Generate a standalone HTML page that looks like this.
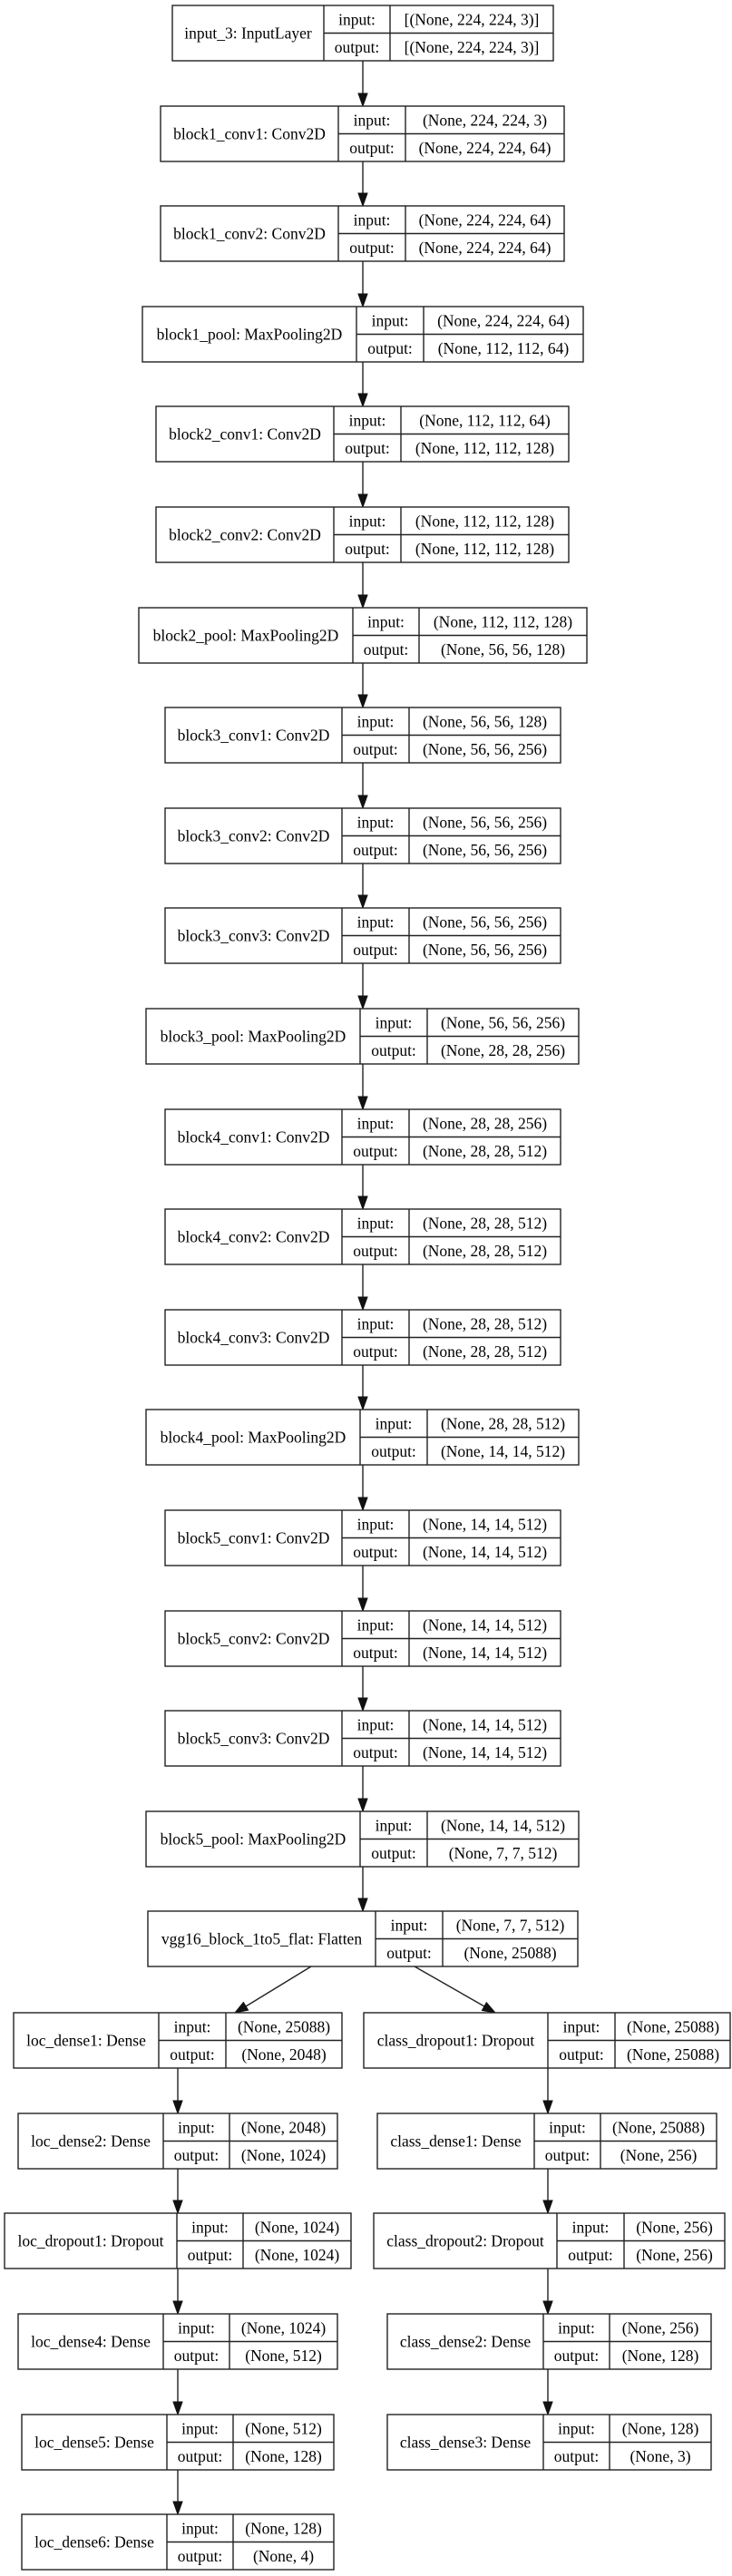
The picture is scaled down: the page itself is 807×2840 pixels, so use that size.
<!DOCTYPE html>
<html><head><meta charset="utf-8"><style>
html,body{margin:0;padding:0;background:#fff;}
svg{display:block;}
rect{fill:#fff;stroke:#222;stroke-width:1.4;}
line{stroke:#222;stroke-width:1.4;}
polygon{fill:#111;stroke:#111;stroke-width:1;}
text{font-family:"Liberation Serif",serif;font-size:17.5px;fill:#000;text-anchor:middle;}
</style></head><body>
<svg width="807" height="2840" viewBox="0 0 807 2840" xmlns="http://www.w3.org/2000/svg">
<g>
<line x1="400" y1="67" x2="400" y2="103"/><polygon points="395,103 405,103 400,117"/>
<line x1="400" y1="178" x2="400" y2="213"/><polygon points="395,213 405,213 400,227"/>
<line x1="400" y1="288" x2="400" y2="324"/><polygon points="395,324 405,324 400,338"/>
<line x1="400" y1="399" x2="400" y2="434"/><polygon points="395,434 405,434 400,448"/>
<line x1="400" y1="509" x2="400" y2="545"/><polygon points="395,545 405,545 400,559"/>
<line x1="400" y1="620" x2="400" y2="656"/><polygon points="395,656 405,656 400,670"/>
<line x1="400" y1="731" x2="400" y2="766"/><polygon points="395,766 405,766 400,780"/>
<line x1="400" y1="841" x2="400" y2="877"/><polygon points="395,877 405,877 400,891"/>
<line x1="400" y1="952" x2="400" y2="987"/><polygon points="395,987 405,987 400,1001"/>
<line x1="400" y1="1062" x2="400" y2="1098"/><polygon points="395,1098 405,1098 400,1112"/>
<line x1="400" y1="1173" x2="400" y2="1209"/><polygon points="395,1209 405,1209 400,1223"/>
<line x1="400" y1="1284" x2="400" y2="1319"/><polygon points="395,1319 405,1319 400,1333"/>
<line x1="400" y1="1394" x2="400" y2="1430"/><polygon points="395,1430 405,1430 400,1444"/>
<line x1="400" y1="1505" x2="400" y2="1540"/><polygon points="395,1540 405,1540 400,1554"/>
<line x1="400" y1="1615" x2="400" y2="1651"/><polygon points="395,1651 405,1651 400,1665"/>
<line x1="400" y1="1726" x2="400" y2="1762"/><polygon points="395,1762 405,1762 400,1776"/>
<line x1="400" y1="1837" x2="400" y2="1872"/><polygon points="395,1872 405,1872 400,1886"/>
<line x1="400" y1="1947" x2="400" y2="1983"/><polygon points="395,1983 405,1983 400,1997"/>
<line x1="400" y1="2058" x2="400" y2="2093"/><polygon points="395,2093 405,2093 400,2107"/>
<line x1="343" y1="2168" x2="271" y2="2212"/><polygon points="273.6,2216.1 268.4,2207.5 259,2219"/>
<line x1="457" y1="2168" x2="534" y2="2212"/><polygon points="531.4,2216.5 536.3,2207.7 546,2219"/>
<line x1="196" y1="2280" x2="196" y2="2316"/><polygon points="191,2316 201,2316 196,2330"/>
<line x1="196" y1="2391" x2="196" y2="2426"/><polygon points="191,2426 201,2426 196,2440"/>
<line x1="196" y1="2501" x2="196" y2="2537"/><polygon points="191,2537 201,2537 196,2551"/>
<line x1="196" y1="2612" x2="196" y2="2648"/><polygon points="191,2648 201,2648 196,2662"/>
<line x1="196" y1="2723" x2="196" y2="2758"/><polygon points="191,2758 201,2758 196,2772"/>
<line x1="604" y1="2280" x2="604" y2="2316"/><polygon points="599,2316 609,2316 604,2330"/>
<line x1="604" y1="2391" x2="604" y2="2426"/><polygon points="599,2426 609,2426 604,2440"/>
<line x1="604" y1="2501" x2="604" y2="2537"/><polygon points="599,2537 609,2537 604,2551"/>
<line x1="604" y1="2612" x2="604" y2="2648"/><polygon points="599,2648 609,2648 604,2662"/>
</g>

<g transform="translate(0,6)"><rect x="190" y="0" width="420" height="61"/><line x1="357" y1="0" x2="357" y2="61"/><line x1="430" y1="0" x2="430" y2="61"/><line x1="357" y1="30.5" x2="610" y2="30.5"/>
<text x="273.5" y="36.5">input_3: InputLayer</text><text x="393.5" y="21.5">input:</text><text x="393.5" y="52">output:</text><text x="520" y="21.5">[(None, 224, 224, 3)]</text><text x="520" y="52">[(None, 224, 224, 3)]</text></g>

<g transform="translate(0,117)"><rect x="177" y="0" width="445" height="61"/><line x1="373" y1="0" x2="373" y2="61"/><line x1="447" y1="0" x2="447" y2="61"/><line x1="373" y1="30.5" x2="622" y2="30.5"/>
<text x="275" y="36.5">block1_conv1: Conv2D</text><text x="410" y="21.5">input:</text><text x="410" y="52">output:</text><text x="534.5" y="21.5">(None, 224, 224, 3)</text><text x="534.5" y="52">(None, 224, 224, 64)</text></g>

<g transform="translate(0,227)"><rect x="177" y="0" width="445" height="61"/><line x1="373" y1="0" x2="373" y2="61"/><line x1="447" y1="0" x2="447" y2="61"/><line x1="373" y1="30.5" x2="622" y2="30.5"/>
<text x="275" y="36.5">block1_conv2: Conv2D</text><text x="410" y="21.5">input:</text><text x="410" y="52">output:</text><text x="534.5" y="21.5">(None, 224, 224, 64)</text><text x="534.5" y="52">(None, 224, 224, 64)</text></g>

<g transform="translate(0,338)"><rect x="157" y="0" width="486" height="61"/><line x1="393" y1="0" x2="393" y2="61"/><line x1="467" y1="0" x2="467" y2="61"/><line x1="393" y1="30.5" x2="643" y2="30.5"/>
<text x="275" y="36.5">block1_pool: MaxPooling2D</text><text x="430" y="21.5">input:</text><text x="430" y="52">output:</text><text x="555" y="21.5">(None, 224, 224, 64)</text><text x="555" y="52">(None, 112, 112, 64)</text></g>

<g transform="translate(0,448)"><rect x="172" y="0" width="455" height="61"/><line x1="368" y1="0" x2="368" y2="61"/><line x1="442" y1="0" x2="442" y2="61"/><line x1="368" y1="30.5" x2="627" y2="30.5"/>
<text x="270" y="36.5">block2_conv1: Conv2D</text><text x="405" y="21.5">input:</text><text x="405" y="52">output:</text><text x="534.5" y="21.5">(None, 112, 112, 64)</text><text x="534.5" y="52">(None, 112, 112, 128)</text></g>

<g transform="translate(0,559)"><rect x="172" y="0" width="455" height="61"/><line x1="368" y1="0" x2="368" y2="61"/><line x1="442" y1="0" x2="442" y2="61"/><line x1="368" y1="30.5" x2="627" y2="30.5"/>
<text x="270" y="36.5">block2_conv2: Conv2D</text><text x="405" y="21.5">input:</text><text x="405" y="52">output:</text><text x="534.5" y="21.5">(None, 112, 112, 128)</text><text x="534.5" y="52">(None, 112, 112, 128)</text></g>

<g transform="translate(0,670)"><rect x="153" y="0" width="494" height="61"/><line x1="389" y1="0" x2="389" y2="61"/><line x1="462" y1="0" x2="462" y2="61"/><line x1="389" y1="30.5" x2="647" y2="30.5"/>
<text x="271" y="36.5">block2_pool: MaxPooling2D</text><text x="425.5" y="21.5">input:</text><text x="425.5" y="52">output:</text><text x="554.5" y="21.5">(None, 112, 112, 128)</text><text x="554.5" y="52">(None, 56, 56, 128)</text></g>

<g transform="translate(0,780)"><rect x="182" y="0" width="436" height="61"/><line x1="377" y1="0" x2="377" y2="61"/><line x1="451" y1="0" x2="451" y2="61"/><line x1="377" y1="30.5" x2="618" y2="30.5"/>
<text x="279.5" y="36.5">block3_conv1: Conv2D</text><text x="414" y="21.5">input:</text><text x="414" y="52">output:</text><text x="534.5" y="21.5">(None, 56, 56, 128)</text><text x="534.5" y="52">(None, 56, 56, 256)</text></g>

<g transform="translate(0,891)"><rect x="182" y="0" width="436" height="61"/><line x1="377" y1="0" x2="377" y2="61"/><line x1="451" y1="0" x2="451" y2="61"/><line x1="377" y1="30.5" x2="618" y2="30.5"/>
<text x="279.5" y="36.5">block3_conv2: Conv2D</text><text x="414" y="21.5">input:</text><text x="414" y="52">output:</text><text x="534.5" y="21.5">(None, 56, 56, 256)</text><text x="534.5" y="52">(None, 56, 56, 256)</text></g>

<g transform="translate(0,1001)"><rect x="182" y="0" width="436" height="61"/><line x1="377" y1="0" x2="377" y2="61"/><line x1="451" y1="0" x2="451" y2="61"/><line x1="377" y1="30.5" x2="618" y2="30.5"/>
<text x="279.5" y="36.5">block3_conv3: Conv2D</text><text x="414" y="21.5">input:</text><text x="414" y="52">output:</text><text x="534.5" y="21.5">(None, 56, 56, 256)</text><text x="534.5" y="52">(None, 56, 56, 256)</text></g>

<g transform="translate(0,1112)"><rect x="161" y="0" width="477" height="61"/><line x1="397" y1="0" x2="397" y2="61"/><line x1="471" y1="0" x2="471" y2="61"/><line x1="397" y1="30.5" x2="638" y2="30.5"/>
<text x="279" y="36.5">block3_pool: MaxPooling2D</text><text x="434" y="21.5">input:</text><text x="434" y="52">output:</text><text x="554.5" y="21.5">(None, 56, 56, 256)</text><text x="554.5" y="52">(None, 28, 28, 256)</text></g>

<g transform="translate(0,1223)"><rect x="182" y="0" width="436" height="61"/><line x1="377" y1="0" x2="377" y2="61"/><line x1="451" y1="0" x2="451" y2="61"/><line x1="377" y1="30.5" x2="618" y2="30.5"/>
<text x="279.5" y="36.5">block4_conv1: Conv2D</text><text x="414" y="21.5">input:</text><text x="414" y="52">output:</text><text x="534.5" y="21.5">(None, 28, 28, 256)</text><text x="534.5" y="52">(None, 28, 28, 512)</text></g>

<g transform="translate(0,1333)"><rect x="182" y="0" width="436" height="61"/><line x1="377" y1="0" x2="377" y2="61"/><line x1="451" y1="0" x2="451" y2="61"/><line x1="377" y1="30.5" x2="618" y2="30.5"/>
<text x="279.5" y="36.5">block4_conv2: Conv2D</text><text x="414" y="21.5">input:</text><text x="414" y="52">output:</text><text x="534.5" y="21.5">(None, 28, 28, 512)</text><text x="534.5" y="52">(None, 28, 28, 512)</text></g>

<g transform="translate(0,1444)"><rect x="182" y="0" width="436" height="61"/><line x1="377" y1="0" x2="377" y2="61"/><line x1="451" y1="0" x2="451" y2="61"/><line x1="377" y1="30.5" x2="618" y2="30.5"/>
<text x="279.5" y="36.5">block4_conv3: Conv2D</text><text x="414" y="21.5">input:</text><text x="414" y="52">output:</text><text x="534.5" y="21.5">(None, 28, 28, 512)</text><text x="534.5" y="52">(None, 28, 28, 512)</text></g>

<g transform="translate(0,1554)"><rect x="161" y="0" width="477" height="61"/><line x1="397" y1="0" x2="397" y2="61"/><line x1="471" y1="0" x2="471" y2="61"/><line x1="397" y1="30.5" x2="638" y2="30.5"/>
<text x="279" y="36.5">block4_pool: MaxPooling2D</text><text x="434" y="21.5">input:</text><text x="434" y="52">output:</text><text x="554.5" y="21.5">(None, 28, 28, 512)</text><text x="554.5" y="52">(None, 14, 14, 512)</text></g>

<g transform="translate(0,1665)"><rect x="182" y="0" width="436" height="61"/><line x1="377" y1="0" x2="377" y2="61"/><line x1="451" y1="0" x2="451" y2="61"/><line x1="377" y1="30.5" x2="618" y2="30.5"/>
<text x="279.5" y="36.5">block5_conv1: Conv2D</text><text x="414" y="21.5">input:</text><text x="414" y="52">output:</text><text x="534.5" y="21.5">(None, 14, 14, 512)</text><text x="534.5" y="52">(None, 14, 14, 512)</text></g>

<g transform="translate(0,1776)"><rect x="182" y="0" width="436" height="61"/><line x1="377" y1="0" x2="377" y2="61"/><line x1="451" y1="0" x2="451" y2="61"/><line x1="377" y1="30.5" x2="618" y2="30.5"/>
<text x="279.5" y="36.5">block5_conv2: Conv2D</text><text x="414" y="21.5">input:</text><text x="414" y="52">output:</text><text x="534.5" y="21.5">(None, 14, 14, 512)</text><text x="534.5" y="52">(None, 14, 14, 512)</text></g>

<g transform="translate(0,1886)"><rect x="182" y="0" width="436" height="61"/><line x1="377" y1="0" x2="377" y2="61"/><line x1="451" y1="0" x2="451" y2="61"/><line x1="377" y1="30.5" x2="618" y2="30.5"/>
<text x="279.5" y="36.5">block5_conv3: Conv2D</text><text x="414" y="21.5">input:</text><text x="414" y="52">output:</text><text x="534.5" y="21.5">(None, 14, 14, 512)</text><text x="534.5" y="52">(None, 14, 14, 512)</text></g>

<g transform="translate(0,1997)"><rect x="161" y="0" width="477" height="61"/><line x1="397" y1="0" x2="397" y2="61"/><line x1="471" y1="0" x2="471" y2="61"/><line x1="397" y1="30.5" x2="638" y2="30.5"/>
<text x="279" y="36.5">block5_pool: MaxPooling2D</text><text x="434" y="21.5">input:</text><text x="434" y="52">output:</text><text x="554.5" y="21.5">(None, 14, 14, 512)</text><text x="554.5" y="52">(None, 7, 7, 512)</text></g>

<g transform="translate(0,2107)"><rect x="163" y="0" width="474" height="61"/><line x1="414" y1="0" x2="414" y2="61"/><line x1="488" y1="0" x2="488" y2="61"/><line x1="414" y1="30.5" x2="637" y2="30.5"/>
<text x="288.5" y="36.5">vgg16_block_1to5_flat: Flatten</text><text x="451" y="21.5">input:</text><text x="451" y="52">output:</text><text x="562.5" y="21.5">(None, 7, 7, 512)</text><text x="562.5" y="52">(None, 25088)</text></g>

<g transform="translate(0,2219)"><rect x="15" y="0" width="362" height="61"/><line x1="175" y1="0" x2="175" y2="61"/><line x1="249" y1="0" x2="249" y2="61"/><line x1="175" y1="30.5" x2="377" y2="30.5"/>
<text x="95" y="36.5">loc_dense1: Dense</text><text x="212" y="21.5">input:</text><text x="212" y="52">output:</text><text x="313" y="21.5">(None, 25088)</text><text x="313" y="52">(None, 2048)</text></g>

<g transform="translate(0,2330)"><rect x="20" y="0" width="352" height="61"/><line x1="180" y1="0" x2="180" y2="61"/><line x1="253" y1="0" x2="253" y2="61"/><line x1="180" y1="30.5" x2="372" y2="30.5"/>
<text x="100" y="36.5">loc_dense2: Dense</text><text x="216.5" y="21.5">input:</text><text x="216.5" y="52">output:</text><text x="312.5" y="21.5">(None, 2048)</text><text x="312.5" y="52">(None, 1024)</text></g>

<g transform="translate(0,2440)"><rect x="5" y="0" width="382" height="61"/><line x1="195" y1="0" x2="195" y2="61"/><line x1="268" y1="0" x2="268" y2="61"/><line x1="195" y1="30.5" x2="387" y2="30.5"/>
<text x="100" y="36.5">loc_dropout1: Dropout</text><text x="231.5" y="21.5">input:</text><text x="231.5" y="52">output:</text><text x="327.5" y="21.5">(None, 1024)</text><text x="327.5" y="52">(None, 1024)</text></g>

<g transform="translate(0,2551)"><rect x="20" y="0" width="352" height="61"/><line x1="180" y1="0" x2="180" y2="61"/><line x1="253" y1="0" x2="253" y2="61"/><line x1="180" y1="30.5" x2="372" y2="30.5"/>
<text x="100" y="36.5">loc_dense4: Dense</text><text x="216.5" y="21.5">input:</text><text x="216.5" y="52">output:</text><text x="312.5" y="21.5">(None, 1024)</text><text x="312.5" y="52">(None, 512)</text></g>

<g transform="translate(0,2662)"><rect x="24" y="0" width="344" height="61"/><line x1="184" y1="0" x2="184" y2="61"/><line x1="257" y1="0" x2="257" y2="61"/><line x1="184" y1="30.5" x2="368" y2="30.5"/>
<text x="104" y="36.5">loc_dense5: Dense</text><text x="220.5" y="21.5">input:</text><text x="220.5" y="52">output:</text><text x="312.5" y="21.5">(None, 512)</text><text x="312.5" y="52">(None, 128)</text></g>

<g transform="translate(0,2772)"><rect x="24" y="0" width="344" height="61"/><line x1="184" y1="0" x2="184" y2="61"/><line x1="257" y1="0" x2="257" y2="61"/><line x1="184" y1="30.5" x2="368" y2="30.5"/>
<text x="104" y="36.5">loc_dense6: Dense</text><text x="220.5" y="21.5">input:</text><text x="220.5" y="52">output:</text><text x="312.5" y="21.5">(None, 128)</text><text x="312.5" y="52">(None, 4)</text></g>

<g transform="translate(0,2219)"><rect x="401" y="0" width="404" height="61"/><line x1="604" y1="0" x2="604" y2="61"/><line x1="678" y1="0" x2="678" y2="61"/><line x1="604" y1="30.5" x2="805" y2="30.5"/>
<text x="502.5" y="36.5">class_dropout1: Dropout</text><text x="641" y="21.5">input:</text><text x="641" y="52">output:</text><text x="742" y="21.5">(None, 25088)</text><text x="742" y="52">(None, 25088)</text></g>

<g transform="translate(0,2330)"><rect x="416" y="0" width="374" height="61"/><line x1="589" y1="0" x2="589" y2="61"/><line x1="662" y1="0" x2="662" y2="61"/><line x1="589" y1="30.5" x2="790" y2="30.5"/>
<text x="502.5" y="36.5">class_dense1: Dense</text><text x="625.5" y="21.5">input:</text><text x="625.5" y="52">output:</text><text x="726" y="21.5">(None, 25088)</text><text x="726" y="52">(None, 256)</text></g>

<g transform="translate(0,2440)"><rect x="412" y="0" width="387" height="61"/><line x1="614" y1="0" x2="614" y2="61"/><line x1="688" y1="0" x2="688" y2="61"/><line x1="614" y1="30.5" x2="799" y2="30.5"/>
<text x="513" y="36.5">class_dropout2: Dropout</text><text x="651" y="21.5">input:</text><text x="651" y="52">output:</text><text x="743.5" y="21.5">(None, 256)</text><text x="743.5" y="52">(None, 256)</text></g>

<g transform="translate(0,2551)"><rect x="427" y="0" width="357" height="61"/><line x1="599" y1="0" x2="599" y2="61"/><line x1="672" y1="0" x2="672" y2="61"/><line x1="599" y1="30.5" x2="784" y2="30.5"/>
<text x="513" y="36.5">class_dense2: Dense</text><text x="635.5" y="21.5">input:</text><text x="635.5" y="52">output:</text><text x="728" y="21.5">(None, 256)</text><text x="728" y="52">(None, 128)</text></g>

<g transform="translate(0,2662)"><rect x="427" y="0" width="357" height="61"/><line x1="599" y1="0" x2="599" y2="61"/><line x1="672" y1="0" x2="672" y2="61"/><line x1="599" y1="30.5" x2="784" y2="30.5"/>
<text x="513" y="36.5">class_dense3: Dense</text><text x="635.5" y="21.5">input:</text><text x="635.5" y="52">output:</text><text x="728" y="21.5">(None, 128)</text><text x="728" y="52">(None, 3)</text></g>
</svg>
</body></html>
